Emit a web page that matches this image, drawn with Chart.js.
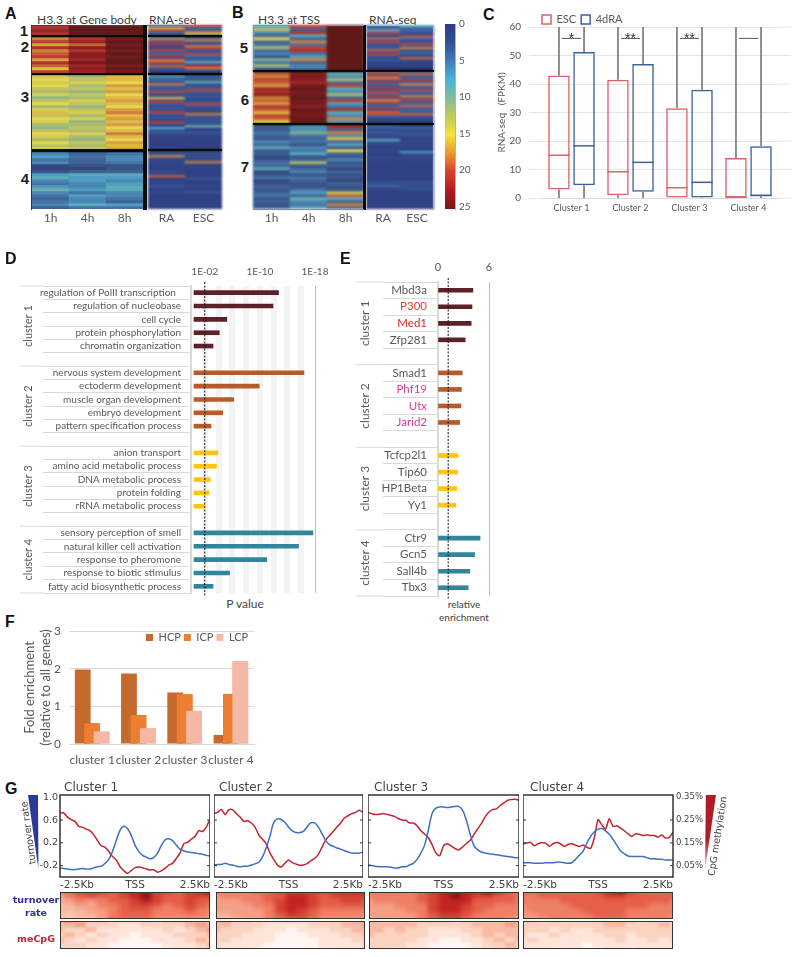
<!DOCTYPE html>
<html>
<head>
<meta charset="utf-8">
<title>H3.3 turnover clusters</title>
<script src="https://cdn.jsdelivr.net/npm/chart.js@4"></script>
<style>
  html, body { margin: 0; background: #fff; }
  #page { position: relative; width: 796px; height: 957px; overflow: hidden; font-family: Lato, sans-serif; }
  canvas { position: absolute; }
  .t { position: absolute; white-space: nowrap; color: #404040; }
  .box { position: absolute; box-sizing: border-box; }
  .clip { position: absolute; overflow: hidden; }
</style>
</head>
<body>
<div id="page"></div>
<script>
// separator row in the heatmaps
const S = -1;

// panel A, rows top to bottom: 1h, 4h, 8h
const aH33Rows = [
  [21,25,25],[22,25,25],[21,25,25],
  [S,S,S],
  [18,21,24],[20,22,25],[17,19,24],[21,23,25],[18,21,24],[19,23,25],[20,23,24],[17,22,25],[21,24,25],[19,22,24],[16,23,25],[20,22,24],
  [S,S,S],
  [14,12,16],[15,13,16],[14,14,15],[15,12,17],[13,13,16],[12,11,17],[14,13,15],[11,12,16],[13,14,17],[15,13,16],[12,11,15],[14,13,17],[16,14,18],[13,12,16],[15,14,17],[14,11,16],[12,12,17],[11,13,15],[13,12,16],[15,14,18],[14,12,16],[12,11,15],[15,13,17],[13,12,16],[14,13,17],
  [S,S,S],
  [6,4,5],[7,5,6],[5,4,6],[6,4,5],[2,3,3],[2,2,3],[3,4,4],[7,8,8],[8,7,7],[6,7,6],[5,6,7],[7,6,8],[9,7,8],[6,5,6],[5,7,6],[4,6,5],[5,6,4],[6,8,7],[4,5,5]
];
// panel A RNA-seq: RA, ESC
const aRnaRows = [
  [3,20],[16,4],[21,3],[4,18],[3,12],
  [S,S],
  [9,4],[20,18],[3,3],[21,2],[2,18],[2,21],[20,3],[3,3],[4,20],[21,4],[2,3],[18,3],[20,9],[3,2],[19,21],[3,18],[2,2],[1,1],
  [S,S],
  [8,4],[3,3],[4,3],[2,9],[18,2],[3,3],[3,3],[3,20],[20,3],[2,2],[3,3],[16,2],[2,2],[20,3],[3,20],[2,3],[3,2],[2,2],[20,2],[3,18],[2,2],[3,3],[1,2],[20,3],[2,2],[2,9],[8,2],[2,1],[3,3],[2,2],[1,1],[1,1],[1,1],[1,1],[1,1],[1,1],[2,1],
  [S,S],
  [3,3],[2,2],[18,2],[2,2],[1,2],[2,18],[1,1],[1,1],[1,1],[1,1],[2,1],[1,1],[19,1],[1,3],[1,1],[2,1],[1,1],[3,2],[1,1],[1,1],[2,3],[1,1],[1,1],[1,1],[1,1],[1,1],[1,1],[1,1],[1,1]
];
// panel B, rows top to bottom: 1h, 4h, 8h
const bH33Rows = [
  [8,20,25],[13,4,25],[6,21,25],[4,8,25],[15,4,25],[4,18,25],[5,5,25],[12,20,25],[4,21,25],[6,5,25],[3,7,25],[10,18,25],[5,4,25],[12,6,25],[4,5,25],
  [S,S,S],
  [19,23,9],[18,24,6],[20,23,12],[19,22,4],[17,24,20],[22,25,8],[21,24,6],[23,24,12],[18,25,4],[19,24,20],[17,24,7],[21,23,5],[19,25,21],[16,24,8],[20,24,6],[19,25,18],[15,24,7],
  [S,S,S],
  [4,7,21],[3,6,4],[5,10,18],[4,5,6],[3,4,16],[6,5,4],[4,3,8],[8,6,3],[3,5,15],[4,8,4],[2,3,3],[3,4,6],[5,12,3],[4,3,4],[8,4,2],[2,6,4],[3,3,3],[5,5,3],[2,4,2],[3,3,4],[4,3,3],[3,5,3],[4,7,13],[5,4,19],[3,9,8],[4,6,4],[3,5,18],[4,8,4]
];
// panel B RNA-seq: RA, ESC
const bRnaRows = [
  [4,8],[3,3],[8,4],[20,3],[3,2],[2,20],[19,5],[3,2],[20,3],[2,20],[3,3],[3,18],[19,2],[2,4],[20,3],[3,2],[2,19],[3,2],[1,1],[1,1],[1,1],[1,1],
  [S,S],
  [19,4],[3,19],[20,3],[18,4],[3,21],[21,3],[4,18],[3,4],[21,3],[3,20],[20,4],[4,3],[21,18],[3,3],[18,20],[20,3],[3,4],[4,19],[21,3],[3,4],[19,3],[20,19],[4,3],[2,2],[1,1],[1,1],
  [S,S],
  [4,3],[3,3],[2,2],[3,2],[2,3],[2,2],[2,1],[8,2],[1,1],[2,2],[1,1],[1,1],[2,1],[1,7],[1,1],[1,1],[2,2],[1,1],[1,1],[1,1],[1,1],[1,1],[1,1],[1,1],[1,1],[1,1],[1,1],[1,1],[3,3],[2,2],[4,2],[1,3],[1,1],[1,1],[1,1],[1,1],[1,1],[1,1],[1,1],[1,1],[1,1],[1,1]
];
const h33Hours = ["1h", "4h", "8h"];
const rnaSamples = ["RA", "ESC"];
const heatTicks = [0, 5, 10, 15, 20, 25];

// panel C
const boxClusters = ["Cluster 1", "Cluster 2", "Cluster 3", "Cluster 4"];
const escLow = [0, 0, 0, 0];
const escQ1 = [3, 1, 0, 0];
const escMedian = [15, 9.2, 3.6, 0.3];
const escQ3 = [43, 41.5, 31.5, 14];
const escHigh = [60, 60, 60, 60];
const draLow = [0, 0, 0, 0];
const draQ1 = [4.5, 2.2, 0.2, 0.6];
const draMedian = [18.3, 12.5, 5.5, 0.9];
const draQ3 = [51.2, 47, 38, 18.2];
const draHigh = [60, 60, 60, 60];
const sigMarks = ["*", "**", "**", ""];
const sigLevel = 56;

// panel D, -log10 P
const goTerms = [
  "regulation of PolII transcription  ", "regulation of nucleobase", "cell cycle", "protein phosphorylation", "chromatin organization", "",
  "nervous system development", "ectoderm development", "muscle organ development", "embryo development", "pattern specification process", "",
  "anion transport", "amino acid metabolic process", "DNA metabolic process", "protein folding", "rRNA metabolic process", "",
  "sensory perception of smell", "natural killer cell activation", "response to pheromone", "response to biotic stimulus", "fatty acid biosynthetic process"
];
const goLogP = [
  12.7, 11.9, 5.2, 4.1, 3.2, null,
  16.4, 9.9, 6.2, 4.6, 2.9, null,
  3.9, 3.7, 2.8, 2.6, 2.0, null,
  17.7, 15.6, 11, 5.6, 3.2
];
const goCutoff = 2;

// panel E
const factors = [
  "Mbd3a", "P300", "Med1", "Zfp281", "",
  "Smad1", "Phf19", "Utx", "Jarid2", "",
  "Tcfcp2l1", "Tip60", "HP1Beta", "Yy1", "",
  "Ctr9", "Gcn5", "Sall4b", "Tbx3"
];
const factorEnrichment = [
  4.1, 4.0, 3.9, 3.2, null,
  2.85, 2.75, 2.7, 2.55, null,
  2.35, 2.3, 2.2, 2.1, null,
  4.95, 4.3, 3.75, 3.55
];
const factorCutoff = 1.2;
const clusterNames = ["cluster 1", "cluster 2", "cluster 3", "cluster 4"];
const clusterColors = ["#5e2127", "#b95a2b", "#ffc50d", "#31859c"];

// panel F
const hcp = [1.98, 1.87, 1.37, 0.24];
const icp = [0.55, 0.77, 1.32, 1.33];
const lcp = [0.33, 0.42, 0.88, 2.2];

// panel G, position in Kb
const gX = [-2.5,-2.375,-2.25,-2.125,-2,-1.875,-1.75,-1.625,-1.5,-1.375,-1.25,-1.125,-1,-0.875,-0.75,-0.625,-0.5,-0.375,-0.25,-0.125,0,0.125,0.25,0.375,0.5,0.625,0.75,0.875,1,1.125,1.25,1.375,1.5,1.625,1.75,1.875,2,2.125,2.25,2.375,2.5];
const turnover1 = [-0.24,-0.25,-0.26,-0.27,-0.27,-0.26,-0.25,-0.26,-0.26,-0.24,-0.22,-0.21,-0.16,-0.09,0.05,0.24,0.42,0.49,0.45,0.33,0.16,0.05,-0.02,-0.05,-0.08,-0.06,0.02,0.15,0.25,0.27,0.24,0.16,0.09,0.06,0.04,0.03,0.02,0.01,0,-0.02,-0.03];
const turnover2 = [-0.19,-0.18,-0.18,-0.16,-0.18,-0.19,-0.21,-0.22,-0.21,-0.21,-0.19,-0.17,-0.14,-0.05,0.11,0.31,0.55,0.62,0.61,0.56,0.48,0.41,0.38,0.38,0.40,0.48,0.55,0.55,0.48,0.36,0.24,0.17,0.14,0.11,0.09,0.06,0.04,0.02,0.02,0.02,0.04];
const turnover3 = [-0.19,-0.2,-0.21,-0.22,-0.22,-0.22,-0.23,-0.24,-0.24,-0.22,-0.22,-0.19,-0.16,-0.09,0.02,0.16,0.43,0.72,0.81,0.83,0.83,0.82,0.83,0.84,0.84,0.78,0.61,0.37,0.16,0.08,0.04,0.02,0.01,0,-0.01,-0.02,-0.03,-0.04,-0.05,-0.06,-0.06];
const turnover4 = [-0.15,-0.15,-0.15,-0.16,-0.16,-0.16,-0.15,-0.15,-0.15,-0.14,-0.14,-0.15,-0.16,-0.15,-0.09,-0.02,0.05,0.19,0.31,0.39,0.44,0.45,0.41,0.35,0.26,0.16,0.06,0.01,-0.03,-0.04,-0.04,-0.04,-0.04,-0.06,-0.08,-0.08,-0.09,-0.09,-0.1,-0.1,-0.1];
const methyl1 = [0.281,0.281,0.263,0.252,0.244,0.222,0.219,0.21,0.204,0.185,0.16,0.137,0.131,0.112,0.09,0.075,0.046,0.028,0.016,0.028,0.041,0.044,0.041,0.035,0.031,0.032,0.021,0.027,0.038,0.052,0.06,0.081,0.105,0.146,0.152,0.166,0.178,0.204,0.2,0.219,0.254];
const methyl2 = [0.278,0.285,0.296,0.274,0.296,0.296,0.278,0.263,0.244,0.247,0.237,0.219,0.185,0.166,0.146,0.107,0.078,0.053,0.044,0.06,0.075,0.063,0.057,0.052,0.053,0.059,0.071,0.081,0.099,0.131,0.163,0.182,0.2,0.219,0.237,0.259,0.269,0.278,0.284,0.293,0.284];
const methyl3 = [0.284,0.278,0.274,0.275,0.279,0.275,0.271,0.266,0.257,0.25,0.249,0.237,0.237,0.225,0.203,0.188,0.171,0.141,0.105,0.093,0.137,0.146,0.137,0.125,0.119,0.131,0.146,0.16,0.185,0.21,0.234,0.263,0.284,0.296,0.299,0.313,0.325,0.337,0.34,0.341,0.337];
const methyl4 = [0.146,0.149,0.152,0.137,0.146,0.15,0.149,0.135,0.146,0.152,0.146,0.134,0.143,0.146,0.14,0.134,0.14,0.131,0.125,0.171,0.252,0.229,0.21,0.256,0.222,0.225,0.215,0.203,0.19,0.178,0.19,0.188,0.182,0.185,0.182,0.182,0.175,0.184,0.171,0.174,0.196];
const turnoverTicks = [-0.2, 0.2, 0.6, 1];
const methylTicks = [0.05, 0.15, 0.25, 0.35];
const positionTicks = [-2.5, 0, 2.5];

// panel G heat strips, intensity 0..9
const turnHeat1 = [
  [5,6,7,7,7,6,7,8,8,7,7,6,7,8,9],[4,5,6,7,6,6,7,8,9,7,6,6,7,7,7],[3,4,5,4,5,6,6,7,8,7,6,6,7,6,6],[3,3,4,4,5,5,6,7,7,6,5,6,7,6,5],
  [3,3,3,4,4,5,6,6,6,5,5,5,6,5,5],[3,2,3,3,4,5,6,6,6,5,5,5,5,5,4],[2,3,3,3,4,6,5,5,5,4,4,4,4,4,4]
];
const turnHeat2 = [
  [5,5,5,5,6,6,7,7,7,7,7,7,8,8,8],[4,5,5,5,5,6,6,8,8,7,6,7,7,7,7],[4,4,4,5,5,6,7,8,8,7,6,6,7,7,6],[4,4,4,4,5,5,7,8,8,7,6,6,6,6,6],
  [4,4,4,4,4,5,7,8,7,6,5,5,5,5,5],[3,3,4,4,4,5,6,7,7,6,5,5,5,5,4],[3,3,3,4,4,5,6,6,6,5,4,4,4,4,4]
];
const turnHeat3 = [
  [5,5,5,5,5,6,7,8,8,8,8,9,8,6,6],[5,5,5,5,5,6,7,8,9,8,7,7,6,6,5],[4,5,5,5,5,6,7,8,8,8,6,6,6,6,5],[4,4,4,5,5,5,7,8,8,7,6,6,5,5,5],
  [4,4,4,4,5,5,7,8,8,7,6,5,5,5,5],[4,4,4,4,4,5,6,7,7,6,5,5,5,5,4],[3,4,4,4,4,5,6,7,7,6,5,5,5,4,4]
];
const turnHeat4 = [
  [6,6,6,6,6,6,6,7,8,9,7,6,6,6,6],[5,5,6,6,6,6,6,6,7,7,6,6,6,6,6],[5,5,5,5,6,6,6,6,6,6,6,6,6,6,5],[5,5,5,5,5,6,6,6,6,6,6,6,5,5,5],
  [4,5,5,5,5,5,6,6,6,6,5,5,5,5,5],[4,4,5,5,5,5,5,6,6,6,5,5,5,5,5],[4,4,4,5,5,5,5,5,5,5,5,5,5,5,4]
];
const cpgHeat1 = [
  [4,5,3,3,3,2,2,2,3,2,3,3,4,3,3],[3,3,4,2,2,2,1,1,2,2,2,2,3,4,3],[3,2,2,3,1,1,1,1,1,1,2,1,2,3,4],[2,3,2,1,2,1,1,0,1,1,1,2,2,2,3],
  [3,2,1,2,1,1,0,0,0,1,1,1,2,3,2],[2,2,2,1,1,0,0,0,0,0,1,1,1,2,3],[2,1,1,1,1,0,0,0,0,0,0,1,1,1,2]
];
const cpgHeat2 = [
  [3,4,3,3,2,2,2,2,2,2,2,3,3,4,4],[3,3,2,2,2,1,1,1,1,2,2,2,3,3,4],[3,2,2,2,1,1,1,0,1,1,1,2,2,3,3],[2,2,2,1,1,1,0,0,0,1,1,1,2,2,3],
  [2,2,1,1,1,1,0,0,0,0,1,1,1,2,2],[2,1,1,1,1,0,0,0,0,0,1,1,1,1,2],[1,1,1,1,0,0,0,0,0,0,0,1,1,1,1]
];
const cpgHeat3 = [
  [3,3,3,3,3,3,3,3,2,3,3,3,3,3,3],[3,3,3,3,3,2,2,2,2,2,3,3,3,4,3],[3,3,2,3,2,2,1,1,1,2,2,3,3,3,3],[3,2,2,2,2,2,1,1,1,1,2,3,2,3,3],
  [2,2,2,2,2,1,1,0,0,1,1,2,3,2,3],[2,2,2,2,1,1,0,0,0,0,1,2,2,3,2],[2,2,1,1,1,1,0,0,0,0,1,1,2,2,2]
];
const cpgHeat4 = [
  [2,3,2,3,2,2,2,3,3,4,3,2,3,2,2],[2,2,2,2,2,2,2,2,3,3,2,2,2,3,2],[2,2,2,1,2,1,1,2,2,2,2,2,2,2,2],[2,1,1,2,1,1,1,1,2,2,1,2,2,2,2],
  [1,2,1,1,1,1,1,1,1,2,1,1,2,1,2],[1,1,1,1,1,1,0,1,1,1,1,1,1,1,1],[1,1,1,1,0,1,0,0,1,1,0,1,1,1,1]
];

Chart.defaults.animation = false;
Chart.defaults.responsive = false;
Chart.defaults.font.family = "Lato, sans-serif";
Chart.defaults.color = "#595959";
Chart.defaults.plugins.legend.display = false;
Chart.defaults.plugins.tooltip.enabled = false;

const page = document.getElementById("page");
const GREY = "#595959";
const RULE = "#d9d9d9";

function addCanvas(left, top, width, height, parent) {
  const c = document.createElement("canvas");
  c.width = width;
  c.height = height;
  c.style.left = left + "px";
  c.style.top = top + "px";
  (parent || page).appendChild(c);
  return c;
}

function addText(text, x, y, size, opts) {
  opts = opts || {};
  const d = document.createElement("div");
  d.className = "t";
  d.textContent = text;
  d.style.left = x + "px";
  d.style.top = y + "px";
  d.style.fontSize = size + "px";
  if (opts.color) d.style.color = opts.color;
  if (opts.weight) d.style.fontWeight = opts.weight;
  if (opts.family) d.style.fontFamily = opts.family;
  d.style.transform = "translate(" + (opts.center ? "-50%" : "0") + ",-50%)" + (opts.rotate ? " rotate(" + opts.rotate + "deg)" : "");
  page.appendChild(d);
}

function addBox(left, top, width, height, css) {
  const d = document.createElement("div");
  d.className = "box";
  d.style.cssText += "left:" + left + "px;top:" + top + "px;width:" + width + "px;height:" + height + "px;" + css;
  page.appendChild(d);
  return d;
}

// legends sit where the figure has them, not where the layout wants them
function moveLegend(chart, left, top) {
  const l = chart.legend, w = l.width, h = l.height;
  l.left = left;
  l.top = top;
  l.right = left + w;
  l.bottom = top + h;
}

// heat colours
const heatStops = [
  [0, [43,57,144]], [2.5, [47,80,160]], [5, [58,124,196]], [7.5, [56,182,230]], [10, [122,192,145]],
  [12.5, [192,204,74]], [15, [250,228,26]], [17.5, [247,148,30]], [20, [238,58,36]], [22.5, [196,22,28]], [25, [125,20,22]]
];
const redStops = [
  [0, [255,246,241]], [2, [252,210,192]], [4, [245,160,134]], [6, [230,95,72]], [8, [195,36,34]], [9, [125,15,18]]
];
function ramp(stops, v) {
  let i = 1;
  while (i < stops.length - 1 && v > stops[i][0]) i++;
  const a = stops[i - 1], b = stops[i];
  const f = Math.min(1, Math.max(0, (v - a[0]) / (b[0] - a[0])));
  return "rgb(" + a[1].map((c, k) => Math.round(c + (b[1][k] - c) * f)).join(",") + ")";
}
const heatColor = v => (v === S ? "#0b0b0b" : ramp(heatStops, v));
const redColor = v => ramp(redStops, v);

// stacked bars, one dataset per heatmap row
function heatChart(canvas, rows, rowPx, colorOf, columns) {
  const sepPx = 2;
  const total = rows.reduce((n, r) => n + (r[0] === S ? sepPx : rowPx), 0);
  return new Chart(canvas, {
    type: "bar",
    data: {
      labels: columns,
      datasets: rows.map(r => ({
        data: r.map(v => (v === S ? sepPx : rowPx)),
        backgroundColor: r.map(colorOf),
        barPercentage: 1,
        categoryPercentage: 1,
        borderWidth: 0
      }))
    },
    options: {
      layout: { padding: 0 },
      scales: {
        x: { stacked: true, display: false },
        y: { stacked: true, reverse: true, min: 0, max: total, display: false }
      }
    }
  });
}

// the blur must not touch the tick labels, so they get their own chart
function columnAxis(left, top, width, columns) {
  return new Chart(addCanvas(left, top, width, 20), {
    type: "bar",
    data: { labels: columns, datasets: [{ data: [] }] },
    options: {
      layout: { padding: 0 },
      scales: {
        x: {
          afterFit: s => { s.height = 18; },
          grid: { display: false, drawTicks: false },
          border: { display: false },
          ticks: { color: GREY, font: { size: 12 }, padding: 0, maxRotation: 0 }
        },
        y: { display: false }
      }
    }
  });
}

// panels A and B
addText("A", 5, 14, 16, { weight: 700, color: "#111", family: "Liberation Sans" });
addText("B", 232, 13, 16, { weight: 700, color: "#111", family: "Liberation Sans" });
addText("H3.3 at Gene body", 37, 19, 12);
addText("RNA-seq", 149, 19, 12);
addText("H3.3 at TSS", 258, 19, 12);
addText("RNA-seq", 369, 19, 12);
[["1", 24, 30], ["2", 25, 46], ["3", 25, 96], ["4", 25, 178], ["5", 244, 47], ["6", 245, 99], ["7", 245, 166]].forEach(n =>
  addText(n[0], n[1], n[2], 15, { weight: 700, color: "#222", center: true, family: "Liberation Sans" }));

function panelHeat(left, top, width, rows, rowPx, columns, plotHeight, look) {
  const c = addCanvas(left, top, width, plotHeight);
  c.style.filter = look;
  heatChart(c, rows, rowPx, heatColor, columns);
  columnAxis(left, top + plotHeight, width, columns);
}
panelHeat(32, 26, 111, aH33Rows, 3, h33Hours, 183, "blur(0.6px) saturate(0.72) brightness(0.95)");
panelHeat(148, 25, 74, aRnaRows, 2, rnaSamples, 184, "blur(1.1px) saturate(0.8)");
panelHeat(253, 25, 111, bH33Rows, 3, h33Hours, 184, "blur(0.9px) saturate(0.72) brightness(0.95)");
panelHeat(366, 25, 68, bRnaRows, 2, rnaSamples, 184, "blur(1.1px) saturate(0.8)");
addBox(31, 25, 113, 185, "border-left:1.5px solid #333;border-top:1.5px solid #444;");
addBox(143, 25, 4, 185, "background:#0b0b0b;");
addBox(147, 25, 75, 185, "border-top:1.5px solid #777;");
addBox(363, 25, 2.5, 185, "background:#0b0b0b;");
addBox(253, 24.5, 111, 185.5, "border:1px solid #8a8aa0;border-right:none;");
addBox(365.5, 24.5, 68.5, 185.5, "border:1px solid #b0b0c8;");
// blur softens the separator rows, so they are sharpened again here
[[32, 35, 111], [32, 73, 111], [32, 148.5, 111], [148, 35, 74], [148, 73, 74], [148, 148.5, 74],
 [253, 69.5, 111], [253, 123, 111], [366, 69.5, 68], [366, 123, 68]].forEach(r =>
  addBox(r[0], r[1], r[2], 2.2, "background:#0b0b0b;"));

// colour bar
const barCanvas = addCanvas(440, 14, 40, 205);
barCanvas.style.filter = "saturate(0.85)";
new Chart(barCanvas, {
  type: "bar",
  data: {
    labels: ["scale"],
    datasets: [{
      data: [[heatTicks[0], heatTicks[5] + 0.3]],
      barPercentage: 1,
      categoryPercentage: 1,
      backgroundColor: ctx => {
        const a = ctx.chart.chartArea;
        if (!a) return "#2b3990";
        const g = ctx.chart.ctx.createLinearGradient(0, a.top, 0, a.bottom);
        heatStops.forEach(s => g.addColorStop(s[0] / 25, ramp(heatStops, s[0])));
        return g;
      }
    }]
  },
  options: {
    layout: { padding: { top: 10, bottom: 6, left: 5 } },
    scales: {
      x: { display: false },
      y: {
        reverse: true,
        position: "right",
        min: 0,
        max: 25.3,
        afterFit: s => { s.width = 25; },
        afterBuildTicks: s => { s.ticks = heatTicks.map(v => ({ value: v })); },
        grid: { display: false, drawTicks: false },
        border: { color: "#b0b0c8" },
        ticks: { font: { size: 10 }, color: GREY, padding: 4 }
      }
    }
  }
});

// panel C
addText("C", 483, 15, 16, { weight: 700, color: "#111", family: "Liberation Sans" });

const boxPlugin = {
  id: "boxParts",
  afterLayout(chart) {
    moveLegend(chart, 47, 9);
  },
  afterDatasetsDraw(chart) {
    const { ctx, scales: { y }, chartArea: area } = chart;
    const parts = [
      { low: escLow, q1: escQ1, med: escMedian, q3: escQ3, high: escHigh },
      { low: draLow, q1: draQ1, med: draMedian, q3: draQ3, high: draHigh }
    ];
    ctx.save();
    parts.forEach((p, d) => {
      const bars = chart.getDatasetMeta(d).data;
      const edge = chart.data.datasets[d].borderColor;
      bars.forEach((bar, i) => {
        ctx.strokeStyle = "#6b6b6b";
        ctx.lineWidth = 1.5;
        ctx.beginPath();
        ctx.moveTo(bar.x, y.getPixelForValue(p.q3[i]));
        ctx.lineTo(bar.x, y.getPixelForValue(p.high[i]));
        ctx.moveTo(bar.x, y.getPixelForValue(p.q1[i]));
        ctx.lineTo(bar.x, y.getPixelForValue(p.low[i]));
        ctx.stroke();
        ctx.strokeStyle = edge;
        ctx.beginPath();
        ctx.moveTo(bar.x - bar.width / 2, y.getPixelForValue(p.med[i]));
        ctx.lineTo(bar.x + bar.width / 2, y.getPixelForValue(p.med[i]));
        ctx.stroke();
      });
    });
    // significance marks
    const a = chart.getDatasetMeta(0).data, b = chart.getDatasetMeta(1).data;
    sigMarks.forEach((mark, i) => {
      const mid = (a[i].x + b[i].x) / 2, py = y.getPixelForValue(sigLevel);
      ctx.strokeStyle = "#555";
      ctx.lineWidth = 1;
      ctx.beginPath();
      ctx.moveTo(mid - 9.5, py);
      ctx.lineTo(mid + 9.5, py);
      ctx.stroke();
      ctx.fillStyle = "#333";
      ctx.font = "14px 'Liberation Sans'";
      ctx.textAlign = "center";
      ctx.textBaseline = "alphabetic";
      ctx.fillText(mark, mid, py + 5);
    });
    // grid runs a little past the plot on the right
    ctx.strokeStyle = "#e6e6e6";
    ctx.lineWidth = 1;
    y.ticks.forEach(t => {
      const py = y.getPixelForValue(t.value);
      ctx.beginPath();
      ctx.moveTo(area.right, py);
      ctx.lineTo(area.right + 13, py);
      ctx.stroke();
    });
    ctx.restore();
  }
};

new Chart(addCanvas(490, 0, 306, 225), {
  type: "bar",
  data: {
    labels: boxClusters,
    datasets: [
      { label: "ESC", data: escQ1.map((v, i) => [v, escQ3[i]]), borderColor: "#d9636a", backgroundColor: "rgba(255,255,255,0)", borderWidth: 1.5, borderSkipped: false, categoryPercentage: 0.85, barPercentage: 0.86 },
      { label: "4dRA", data: draQ1.map((v, i) => [v, draQ3[i]]), borderColor: "#3a639e", backgroundColor: "rgba(255,255,255,0)", borderWidth: 1.5, borderSkipped: false, categoryPercentage: 0.85, barPercentage: 0.86 }
    ]
  },
  options: {
    layout: { padding: { right: 18, top: 1 } },
    plugins: {
      legend: {
        display: true,
        position: "top",
        align: "start",
        labels: { boxWidth: 9, boxHeight: 9, padding: 5, font: { size: 11 }, color: GREY }
      }
    },
    scales: {
      x: {
        afterFit: s => { s.height = 27; },
        grid: { display: false, drawTicks: false },
        border: { color: RULE },
        ticks: { font: { size: 9 }, color: GREY, padding: 5 }
      },
      y: {
        min: 0,
        max: 60,
        afterFit: s => { s.width = 52; },
        title: { display: true, text: "RNA-seq   (FPKM)", font: { size: 10 }, color: GREY, padding: { top: 6, bottom: 0 } },
        grid: { color: "#e6e6e6", tickLength: 13 },
        border: { display: false },
        ticks: { stepSize: 10, font: { size: 10 }, color: GREY, padding: 8 }
      }
    }
  },
  plugins: [boxPlugin]
});

// panels D and E share the cluster furniture
const clusterPlugin = {
  id: "clusterFurniture",
  afterDatasetsDraw(chart, args, opts) {
    const { ctx, scales: { x, y } } = chart;
    ctx.save();
    // dotted cutoff
    const cx = x.getPixelForValue(opts.cutoff);
    ctx.strokeStyle = "#111";
    ctx.lineWidth = 1;
    ctx.setLineDash([2, 1.5]);
    ctx.beginPath();
    ctx.moveTo(cx, y.top - 4);
    ctx.lineTo(cx, y.bottom + 4);
    ctx.stroke();
    ctx.setLineDash([]);
    // long rules and rotated cluster names
    const n = chart.data.labels.length;
    ctx.strokeStyle = RULE;
    ctx.fillStyle = GREY;
    ctx.font = opts.font;
    ctx.textAlign = "center";
    ctx.textBaseline = "middle";
    opts.names.forEach((name, k) => {
      const start = k * opts.every;
      const py = y.getPixelForValue(start - 0.5);
      ctx.beginPath();
      ctx.moveTo(opts.ruleX, py);
      ctx.lineTo(opts.shortX, py);
      ctx.stroke();
      const span = Math.min(opts.every, n - start);
      ctx.save();
      ctx.translate(opts.nameX, y.getPixelForValue(start + (span - 1) / 2));
      ctx.rotate(-Math.PI / 2);
      ctx.fillText(name, 0, 0);
      ctx.restore();
    });
    const endY = y.getPixelForValue(n - 0.5);
    ctx.beginPath();
    ctx.moveTo(opts.ruleX, endY);
    ctx.lineTo(opts.shortX, endY);
    ctx.stroke();
    ctx.restore();
  }
};

function enrichChart(canvas, labels, values, cfg) {
  return new Chart(canvas, {
    type: "bar",
    data: {
      labels: labels,
      datasets: [{
        data: values,
        backgroundColor: labels.map((_, i) => clusterColors[Math.floor(i / cfg.every)]),
        barThickness: 4,
        borderWidth: 0
      }]
    },
    options: {
      indexAxis: "y",
      layout: { padding: cfg.padding },
      plugins: {
        clusterFurniture: {
          cutoff: cfg.cutoff, names: clusterNames, every: cfg.every,
          ruleX: cfg.ruleX, shortX: cfg.shortX, nameX: cfg.nameX, font: cfg.nameFont
        }
      },
      scales: {
        x: cfg.x,
        y: {
          afterFit: s => { s.width = cfg.yWidth; },
          offset: true,
          grid: { offset: true, drawOnChartArea: false, tickLength: cfg.tickLength, color: RULE },
          border: { color: RULE, width: 2 },
          ticks: {
            autoSkip: false,
            padding: cfg.labelPad - cfg.tickLength,
            font: { size: cfg.labelSize },
            color: cfg.labelColor || GREY
          }
        }
      }
    },
    plugins: [clusterPlugin]
  });
}

// panel D
addText("D", 5, 259, 16, { weight: 700, color: "#111", family: "Liberation Sans" });
addText("P value", 245, 603, 12, { center: true, color: "#444" });
const goTickNames = { 2: "1E-02", 10: "1E-10", 18: "1E-18" };
enrichChart(addCanvas(0, 262, 345, 337), goTerms, goLogP, {
  every: 6, cutoff: goCutoff, ruleX: 20, shortX: 44, nameX: 28, nameFont: "11px Lato",
  padding: { right: 30, bottom: 6 }, yWidth: 191, tickLength: 148, labelPad: 10, labelSize: 10,
  x: {
    position: "top",
    min: 0,
    max: 18,
    afterFit: s => { s.height = 24; s.paddingRight = 0; s.paddingLeft = 0; },
    border: { display: false },
    grid: {
      drawTicks: false,
      color: c => (c.tick.value === 18 ? "#bfbfbf" : c.tick.value === 0 ? "rgba(0,0,0,0)" : "#f3f3f3"),
      lineWidth: c => (c.tick.value === 18 ? 1 : 6)
    },
    ticks: {
      stepSize: 2, autoSkip: false, maxRotation: 0, padding: 8, font: { size: 10 }, color: GREY,
      callback: v => goTickNames[v] || ""
    }
  }
});

// panel E
addText("E", 340, 259, 16, { weight: 700, color: "#111", family: "Liberation Sans" });
addText("relative", 464, 604, 10, { center: true });
addText("enrichment", 464, 617, 10, { center: true });
const factorColors = { P300: "#e8402c", Med1: "#d9281e", Phf19: "#e23a9b", Utx: "#e23a9b", Jarid2: "#d9329a" };
enrichChart(addCanvas(340, 262, 161, 338), factors, factorEnrichment, {
  every: 5, cutoff: factorCutoff, ruleX: 16, shortX: 43, nameX: 25, nameFont: "12px Lato",
  padding: { right: 12, bottom: 4 }, yWidth: 98, tickLength: 55, labelPad: 11, labelSize: 11.5,
  labelColor: c => factorColors[c.tick.label] || GREY,
  x: {
    position: "top",
    min: 0,
    max: 6,
    afterFit: s => { s.height = 20; s.paddingRight = 0; s.paddingLeft = 0; },
    border: { display: false },
    grid: {
      drawTicks: false,
      color: c => (c.tick.value === 6 ? "#bfbfbf" : "rgba(0,0,0,0)")
    },
    ticks: { stepSize: 6, maxRotation: 0, padding: 8, font: { size: 11 }, color: GREY }
  }
});

// panel F
addText("F", 5, 622, 16, { weight: 700, color: "#111", family: "Liberation Sans" });
const overlapPlugin = {
  id: "overlap",
  // later series sit on top of the earlier ones
  afterDatasetsDraw(chart) {
    chart.getDatasetMeta(1).controller.draw();
    chart.getDatasetMeta(2).controller.draw();
  },
  afterLayout(chart) {
    moveLegend(chart, 121, 22);
  }
};
const fBar = { categoryPercentage: 0.61, barPercentage: 1.68, borderWidth: 0 };
new Chart(addCanvas(22, 607, 243, 163), {
  type: "bar",
  data: {
    labels: clusterNames,
    datasets: [
      Object.assign({ label: "HCP", data: hcp, backgroundColor: "#c5692c" }, fBar),
      Object.assign({ label: "ICP", data: icp, backgroundColor: "#ed7d31" }, fBar),
      Object.assign({ label: "LCP", data: lcp, backgroundColor: "#f4b8a4" }, fBar)
    ]
  },
  options: {
    layout: { padding: { right: 11 } },
    plugins: {
      legend: {
        display: true,
        position: "top",
        align: "start",
        labels: { boxWidth: 7, boxHeight: 7, padding: 3, font: { size: 11 }, color: GREY }
      }
    },
    scales: {
      x: {
        afterFit: s => { s.height = 26; },
        grid: { display: false, drawTicks: false },
        border: { color: RULE },
        ticks: { font: { size: 12 }, color: GREY, padding: 9, maxRotation: 0, autoSkip: false }
      },
      y: {
        min: 0,
        max: 3,
        afterFit: s => { s.width = 47; },
        title: { display: true, text: ["Fold enrichment", "(relative to all genes)"], font: { size: 13 }, color: GREY, padding: 0 },
        grid: { color: RULE, drawTicks: false },
        border: { display: false },
        ticks: { stepSize: 1, font: { size: 12 }, color: GREY, padding: 8 }
      }
    }
  },
  plugins: [overlapPlugin]
});

// panel G
addText("G", 5, 789, 16, { weight: 700, color: "#111", family: "Liberation Sans" });
const gFont = "DejaVu Sans";

const frameTicksPlugin = {
  id: "frameTicks",
  afterDraw(chart) {
    const { ctx, chartArea: a, scales: { y1 } } = chart;
    ctx.save();
    ctx.strokeStyle = "#333";
    ctx.lineWidth = 1.5;
    ctx.strokeRect(a.left, a.top, a.right - a.left, a.bottom - a.top);
    ctx.lineWidth = 1;
    turnoverTicks.slice(0, 3).forEach(v => {
      const py = y1.getPixelForValue(v);
      ctx.beginPath();
      ctx.moveTo(a.left, py);
      ctx.lineTo(a.left + 3, py);
      ctx.moveTo(a.right, py);
      ctx.lineTo(a.right - 3, py);
      ctx.stroke();
    });
    ctx.restore();
  }
};

function profileChart(canvas, blue, red, showLeft, showRight) {
  return new Chart(canvas, {
    type: "line",
    data: {
      labels: gX,
      datasets: [
        { data: blue, yAxisID: "y1", borderColor: "#3d70bd", borderWidth: 1.5, pointRadius: 0, tension: 0.35 },
        { data: red, yAxisID: "y2", borderColor: "#c4242f", borderWidth: 1.5, pointRadius: 0, tension: 0.2 }
      ]
    },
    options: {
      layout: { padding: { top: 10 } },
      scales: {
        x: {
          type: "linear",
          min: -2.5,
          max: 2.5,
          afterFit: s => { s.height = 15; s.paddingLeft = 0; s.paddingRight = 0; },
          afterBuildTicks: s => { s.ticks = positionTicks.map(v => ({ value: v })); },
          grid: { display: false, drawTicks: false },
          border: { display: false },
          ticks: {
            align: "inner", maxRotation: 0, padding: 2, color: "#444",
            font: { size: 10.5, family: gFont },
            callback: v => (v === 0 ? "TSS" : v + "Kb")
          }
        },
        y1: {
          position: "left",
          display: showLeft,
          min: -0.4,
          max: 1.04,
          afterFit: s => { s.width = showLeft ? 40 : 0; },
          afterBuildTicks: s => { s.ticks = turnoverTicks.map(v => ({ value: v })); },
          grid: { display: false, drawTicks: false },
          border: { display: false },
          ticks: { color: "#444", padding: 2, font: { size: 9.5, family: gFont }, callback: v => v.toFixed(1) }
        },
        y2: {
          position: "right",
          display: showRight,
          min: 0,
          max: 0.36,
          afterFit: s => { s.width = showRight ? 34 : 0; },
          afterBuildTicks: s => { s.ticks = methylTicks.map(v => ({ value: v })); },
          grid: { display: false, drawTicks: false },
          border: { display: false },
          ticks: { color: "#444", padding: 3, font: { size: 8.5, family: gFont }, callback: v => v.toFixed(2) + "%" }
        }
      }
    },
    plugins: [frameTicksPlugin]
  });
}

const panelTop = 785;
profileChart(addCanvas(20, panelTop, 190, 107), turnover1, methyl1, true, false);
profileChart(addCanvas(214, panelTop, 149, 107), turnover2, methyl2, false, false);
profileChart(addCanvas(368, panelTop, 151, 107), turnover3, methyl3, false, false);
profileChart(addCanvas(523, panelTop, 184, 107), turnover4, methyl4, false, true);

[["Cluster 1", 64], ["Cluster 2", 219], ["Cluster 3", 374], ["Cluster 4", 530]].forEach(t =>
  addText(t[0], t[1], 787, 12, { color: "#444", family: gFont }));

// side wedges, the captions lean along their long edges
addBox(28, 795, 10.5, 75, "clip-path:polygon(0 0,95% 0,100% 100%);background:linear-gradient(#2a3a96,#2a3a96 85%,#aab2e0);");
addText("turnover rate", 27.5, 833, 9.5, { center: true, rotate: -98, color: "#444", family: gFont });
addBox(705, 795, 11, 75, "clip-path:polygon(8% 0,100% 0,0 100%);background:linear-gradient(#b01c25,#b01c25 60%,#f3cfd0);");
addText("CpG methylation", 717, 836, 9.5, { center: true, rotate: -81, color: "#444", family: gFont });

addText("turnover", 36, 899, 9.5, { center: true, weight: 700, color: "#2e3192", family: gFont });
addText("rate", 36, 912, 9.5, { center: true, weight: 700, color: "#2e3192", family: gFont });
addText("meCpG", 36, 938, 9.5, { center: true, weight: 700, color: "#c8202f", family: gFont });

// heat strips
function strip(left, top, width, height, rows, blur) {
  const holder = document.createElement("div");
  holder.className = "clip";
  holder.style.cssText += "left:" + left + "px;top:" + top + "px;width:" + width + "px;height:" + height + "px;";
  page.appendChild(holder);
  const c = addCanvas(-7, -4, 165, 35, holder);
  c.style.filter = "blur(" + blur + "px)";
  heatChart(c, rows, 5, redColor, rows[0].map((_, i) => i));
  addBox(left, top, width, height, "border:1.5px solid #333;");
}
strip(60, 892, 150, 27, turnHeat1, 2.5);
strip(216, 892, 149, 27, turnHeat2, 2.5);
strip(369, 892, 150, 27, turnHeat3, 2.5);
strip(523, 892, 150, 27, turnHeat4, 2.5);
strip(60, 921, 150, 28, cpgHeat1, 1.3);
strip(216, 921, 149, 28, cpgHeat2, 1.3);
strip(369, 921, 150, 28, cpgHeat3, 1.3);
strip(523, 921, 150, 28, cpgHeat4, 1.3);
</script>
</body>
</html>
